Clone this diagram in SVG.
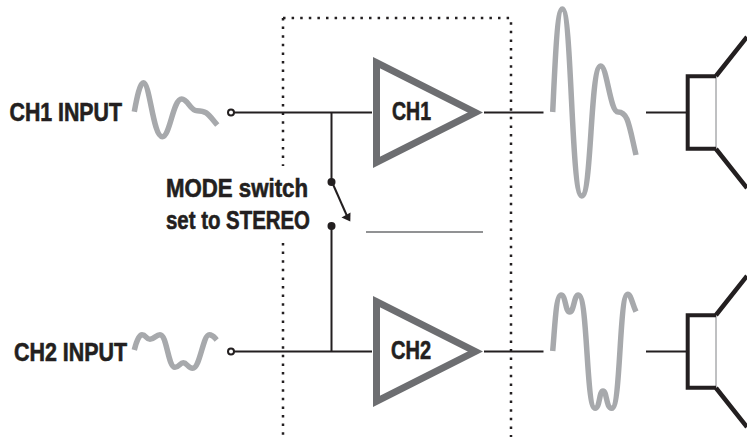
<svg xmlns="http://www.w3.org/2000/svg" width="747" height="440" viewBox="0 0 747 440">
<style>
text{font-family:"Liberation Sans",Arial,sans-serif;font-weight:700;font-size:25px;fill:#231f20;stroke:#231f20;stroke-width:.6}
.wave{fill:none;stroke:#a7a9ac;stroke-width:5.5}
.wire{fill:none;stroke:#231f20;stroke-width:2}
.dots{fill:none;stroke:#231f20;stroke-width:2.500;stroke-dasharray:2.500 6.100}
.amp{fill:#fff;stroke:#6d6e71;stroke-width:7;stroke-miterlimit:10}
.cone{fill:none;stroke:#231f20;stroke-width:4.5}
.body{fill:none;stroke:#231f20;stroke-width:4}
.mouth{stroke:#808285;stroke-width:1}
</style>
<g id="enclosure">
<path class="dots" d="M283 18H511V437"/>
<path class="dots" d="M283 18V166"/>
<path class="dots" d="M283 243V437"/>
</g>
<g id="connectors">
<path class="wire" d="M234 112.500H372M484 112.500H543.500M646 112.500H686"/>
<path class="wire" d="M234 351.500H372M484 351.500H543.500M646 351.500H686"/>
<path class="wire" d="M331.500 112.500V181M331.500 226V351.500"/>
<path class="wire" d="M332 182L347 216"/>
<polygon points="350.300,221.500 341.500,217.500 350.500,212.500" fill="#231f20"/>
<circle cx="331.500" cy="182" r="4" fill="#231f20"/>
<circle cx="331.500" cy="226" r="4" fill="#231f20"/>
<line x1="366" y1="232" x2="483" y2="232" stroke="#6d6e71" stroke-width="1.500"/>
</g>
<g id="ch1-input">
<text x="9.500" y="120.700" textLength="112.500" lengthAdjust="spacingAndGlyphs">CH1 INPUT</text>
<path class="wave" d="M134.300 111.700C137 97 140 82.700 143.300 82.700C150 82.700 153 136.700 162.300 136.700C170 136.700 173 99 181.700 99C188 99 190 110.700 197 110.700C207 110.700 208 114 217.300 125"/>
<circle cx="231" cy="112.500" r="3" fill="#fff" stroke="#231f20" stroke-width="2"/>
</g>
<g id="ch2-input">
<text x="14" y="360.700" textLength="113" lengthAdjust="spacingAndGlyphs">CH2 INPUT</text>
<path class="wave" d="M134.300 350C136 343 139 334.700 142 334.700C146 334.700 146 339.300 150 339.300C154 339.300 156 334.700 160 334.700C167 334.700 168 367.300 175 367.300C179 367.300 180 362.700 183.300 362.700C187 362.700 188 368.300 192.700 368.300C200 368.300 203 334.700 209.300 334.700C213 334.700 214 337 216.700 340"/>
<circle cx="231" cy="351.500" r="3" fill="#fff" stroke="#231f20" stroke-width="2"/>
</g>
<g id="mode-switch">
<text x="166" y="197.300" textLength="142" lengthAdjust="spacingAndGlyphs">MODE switch</text>
<text x="166" y="229" textLength="144" lengthAdjust="spacingAndGlyphs">set to STEREO</text>
</g>
<g id="amp-ch1">
<polygon class="amp" points="376.500,62.700 475.200,112.500 376.500,162.300"/>
<text x="392" y="119.500" textLength="39" lengthAdjust="spacingAndGlyphs">CH1</text>
</g>
<g id="amp-ch2">
<polygon class="amp" points="376.500,301.700 475.200,351.500 376.500,401.300"/>
<text x="391" y="359" textLength="40" lengthAdjust="spacingAndGlyphs">CH2</text>
</g>
<g id="ch1-output">
<path class="wave" d="M552.700 112C555 65 557 9 562.300 9C572 9 571 196 581.700 196C592 196 590 66 600.700 66C607 66 610 112 618 112C628 112 629 125 636 155"/>
</g>
<g id="ch2-output">
<path class="wave" d="M552.700 351C555 325 556 295 561 295C566 295 565 312 569.700 312C574 312 574 295 578.300 295C588 295 586 408.300 595 408.300C600 408.300 599 391 603 391C607 391 606 408.300 611.700 408.300C621 408.300 619 294.300 627.700 294.300C631 294.300 632 303 636 311.700"/>
</g>
<g id="speaker-ch1">
<path class="mouth" d="M716 76V149"/>
<path class="body" d="M716 76.300H687.700V148.700H716"/>
<path class="cone" d="M716 76L747 37M716 149L747 188"/>
</g>
<g id="speaker-ch2">
<path class="mouth" d="M716 315V388"/>
<path class="body" d="M716 315.300H687.700V387.700H716"/>
<path class="cone" d="M716 315L747 276M716 388L747 427"/>
</g>
</svg>
